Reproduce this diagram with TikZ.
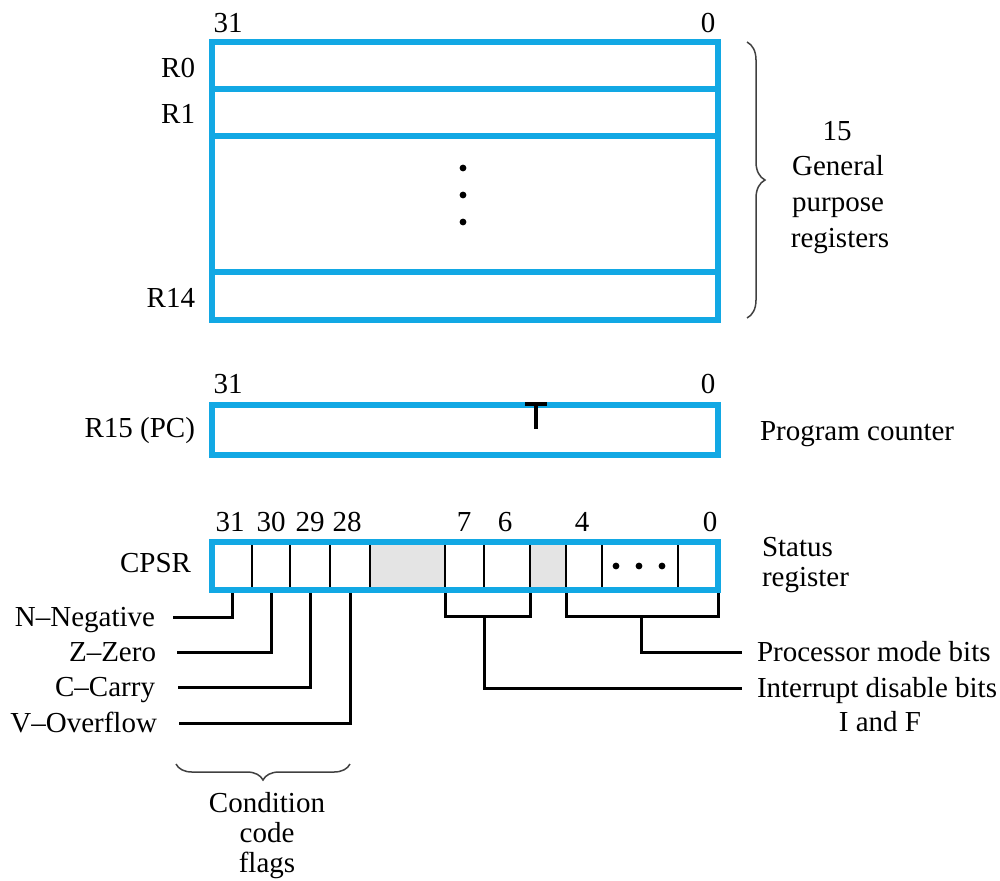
\documentclass[tikz,border=0pt]{standalone}
\usepackage{fontspec}
\setmainfont{Liberation Serif}
\usetikzlibrary{decorations.pathreplacing}
\definecolor{regblue}{RGB}{18,168,228}
\definecolor{resgray}{RGB}{228,228,228}
\begin{document}
\begin{tikzpicture}[x=0.5pt,y=-0.5pt,
  txt/.style={font=\fontsize{14.5}{17}\selectfont, inner sep=0pt, outer sep=0pt},
  regrow/.style={draw=regblue, line width=2.8pt, rectangle, inner sep=0pt, outer sep=0pt, minimum width=253pt},
  regline/.style={draw=regblue, line width=2.8pt},
  cellbox/.style={draw=black, line width=1.2pt, rectangle, inner sep=0pt, outer sep=0pt, minimum height=24pt},
  resbox/.style={cellbox, fill=resgray},
  conn/.style={draw=black, line width=1.5pt},
  brc/.style={draw=black!75, line width=0.75pt, decorate},
  dotmark/.style={fill=black}]
\useasboundingbox (0,0) rectangle (1000,880);

% ---------- general purpose registers ----------
\node[regrow, minimum height=23.5pt] (r0) at (465,65.5) {};
\node[regrow, minimum height=23.5pt] (r1) at (465,112.5) {};
\node[regrow, minimum height=68pt] (rmid) at (465,204) {};
\node[regrow, minimum height=24pt] (r14) at (465,296) {};
\fill[dotmark] (463,168) circle[radius=1.7pt];
\fill[dotmark] (463,195) circle[radius=1.7pt];
\fill[dotmark] (463,222) circle[radius=1.7pt];

\node[txt, anchor=base] (t31a) at (228,32) {31};
\node[txt, anchor=base] (t0a) at (708,32) {0};
\node[txt, anchor=base east] (lr0) at (195,77) {R0};
\node[txt, anchor=base east] (lr1) at (195,123) {R1};
\node[txt, anchor=base east] (lr14) at (195,307) {R14};

\coordinate (brtop) at (747,42);
\coordinate (brbot) at (747,318);
\draw[brc, decoration={brace, amplitude=9pt}] (brtop) -- (brbot);
\node[txt, anchor=base] (g15) at (837,140) {15};
\node[txt, anchor=base] (ggen) at (838,175) {General};
\node[txt, anchor=base] (gpur) at (838,211) {purpose};
\node[txt, anchor=base] (greg) at (840,247) {registers};

% ---------- program counter ----------
\node[regrow, minimum height=25pt] (pc) at (465,430) {};
\coordinate (tmk) at (536,404);
\draw[black, line width=1.7pt] ([xshift=-5.5pt]tmk) -- ([xshift=5.5pt]tmk);
\draw[black, line width=1.7pt] (tmk) -- ++(0,25);
\node[txt, anchor=base] (t31b) at (228,393) {31};
\node[txt, anchor=base] (t0b) at (708,393) {0};
\node[txt, anchor=base east] (lpc) at (195,437) {R15 (PC)};
\node[txt, anchor=base west] (lpcc) at (760,440) {Program counter};

% ---------- CPSR ----------
\node[cellbox, minimum width=20pt] (b31) at (232,566) {};
\node[cellbox, minimum width=19pt] (b30) at (271,566) {};
\node[cellbox, minimum width=20pt] (b29) at (310,566) {};
\node[cellbox, minimum width=20pt] (b28) at (350,566) {};
\node[resbox, minimum width=37.5pt] (bres1) at (407.5,566) {};
\node[cellbox, minimum width=19.5pt] (b7) at (464.5,566) {};
\node[cellbox, minimum width=23pt] (b6) at (507,566) {};
\node[resbox, minimum width=18pt] (bres2) at (548,566) {};
\node[cellbox, minimum width=18pt] (b4) at (584,566) {};
\node[cellbox, minimum width=38pt] (bdots) at (640,566) {};
\node[cellbox, minimum width=20pt] (b0) at (698,566) {};
\fill[dotmark] (616,566) circle[radius=1.7pt];
\fill[dotmark] (639,566) circle[radius=1.7pt];
\fill[dotmark] (662,566) circle[radius=1.7pt];

% connectors (drawn before the blue frame)
\coordinate (nN) at (173,617);
\coordinate (nZ) at (177,652);
\coordinate (nC) at (178,687);
\coordinate (nV) at (179,723);
\draw[conn] (b31.south) |- (nN);
\draw[conn] (b30.south) |- (nZ);
\draw[conn] (b29.south) |- (nC);
\draw[conn] (b28.south) |- (nV);

\coordinate (ifbar) at (484,616);
\coordinate (ifend) at (742,688);
\draw[conn] (b7.south west) |- (ifbar) -| (b6.south east);
\draw[conn] (ifbar) |- (ifend);

\coordinate (modebar) at (641,616);
\coordinate (modeend) at (742,652);
\draw[conn] (b4.south west) |- (modebar) -| (b0.south east);
\draw[conn] (modebar) |- (modeend);

\draw[regline] (b31.north west) rectangle (b0.south east);

\node[txt, anchor=base] (c31) at (230,531) {31};
\node[txt, anchor=base] (c30) at (271,531) {30};
\node[txt, anchor=base] (c29) at (310,531) {29};
\node[txt, anchor=base] (c28) at (347,531) {28};
\node[txt, anchor=base] (c7) at (464,531) {7};
\node[txt, anchor=base] (c6) at (505,531) {6};
\node[txt, anchor=base] (c4) at (582,531) {4};
\node[txt, anchor=base] (c0) at (710,531) {0};
\node[txt, anchor=base east] (lcpsr) at (191,572) {CPSR};
\node[txt, anchor=base west] (lst1) at (762,556) {Status};
\node[txt, anchor=base west] (lst2) at (762,586) {register};

\node[txt, anchor=base east] (fN) at (155,626) {N–Negative};
\node[txt, anchor=base east] (fZ) at (156,661) {Z–Zero};
\node[txt, anchor=base east] (fC) at (155,696) {C–Carry};
\node[txt, anchor=base east] (fV) at (157,732) {V–Overflow};

\node[txt, anchor=base west] (lmode) at (757,661) {Processor mode bits};
\node[txt, anchor=base west] (lint) at (757,697) {Interrupt disable bits};
\node[txt, anchor=base] (lif) at (880,731) {I and F};

\coordinate (cbl) at (176,764);
\coordinate (cbr) at (350,764);
\draw[brc, decoration={brace, amplitude=8pt}] (cbr) -- (cbl);
\node[txt, anchor=base] (lcc1) at (267,812) {Condition};
\node[txt, anchor=base] (lcc2) at (267,842) {code};
\node[txt, anchor=base] (lcc3) at (267,872) {flags};
\end{tikzpicture}
\end{document}
